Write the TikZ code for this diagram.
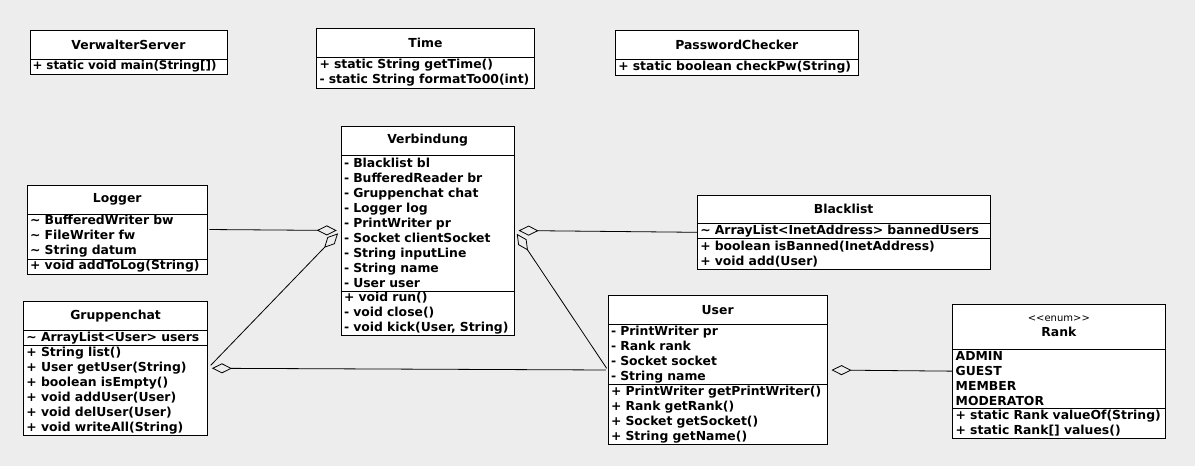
\documentclass[tikz,border=0pt]{standalone}
\usepackage{fontspec}
\setmainfont{DejaVu Sans}
\usetikzlibrary{arrows.meta,positioning,fit}

\tikzset{
    classname/.style={draw, fill=white, line width=1pt, inner sep=0pt, outer sep=0pt, minimum height=29pt, font=\fontsize{12.4}{15}\selectfont\bfseries},
    classpart/.style={draw, fill=white, line width=1pt, inner xsep=3pt, inner ysep=0pt, outer sep=0pt, align=left, font=\fontsize{12.4}{15}\selectfont\bfseries},
    agg/.style={-{Diamond[open,length=20pt,width=10pt]}, line width=0.8pt, shorten >=4pt, shorten <=2pt}
}

\begin{document}
\begin{tikzpicture}[x=1pt,y=-1pt]
            % class diagram
            \fill[black!7] (0,0) rectangle (1195,466);
            \useasboundingbox (0,0) rectangle (1195,466);

            % top row
            \node[classname, minimum width=197pt, anchor=north west] (verwalter) at (30,30) {VerwalterServer};
            \node[classpart, text width=192pt, inner xsep=2.5pt, minimum height=15pt, font=\fontsize{11.9}{15}\selectfont\bfseries, below=0pt of verwalter] (verwalterop) {+ static void main(String[])};

            \node[classname, minimum width=218pt, anchor=north west] (time) at (316.5,28.7) {Time};
            \node[classpart, text width=212pt, minimum height=30.4pt, below=0pt of time] (timeop) {+ static String getTime()\\- static String formatTo00(int)};

            \node[classname, minimum width=243pt, anchor=north west] (pwcheck) at (615.3,30.3) {PasswordChecker};
            \node[classpart, text width=237pt, minimum height=15.7pt, below=0pt of pwcheck] (pwcheckop) {+ static boolean checkPw(String)};

            % middle
            \node[classname, minimum width=173.4pt, anchor=north west] (verb) at (341,126) {Verbindung};
            \node[classpart, text width=167.4pt, minimum height=136.7pt, below=0pt of verb] (verbattr) {- Blacklist bl\\- BufferedReader br\\- Gruppenchat chat\\- Logger log\\- PrintWriter pr\\- Socket clientSocket\\- String inputLine\\- String name\\- User user};
            \node[classpart, text width=167.4pt, minimum height=43.3pt, below=0pt of verbattr] (verbop) {+ void run()\\- void close()\\- void kick(User, String)};
            \node[fit=(verb)(verbop), inner sep=0pt] (VERB) {};

            \node[classname, minimum width=180pt, anchor=north west] (logger) at (27.2,185) {Logger};
            \node[classpart, text width=174pt, minimum height=45pt, below=0pt of logger] (loggerattr) {\textasciitilde{} BufferedWriter bw\\\textasciitilde{} FileWriter fw\\\textasciitilde{} String datum};
            \node[classpart, text width=174pt, minimum height=15pt, below=0pt of loggerattr] (loggerop) {+ void addToLog(String)};
            \node[fit=(logger)(loggerop), inner sep=0pt] (LOGGER) {};

            \node[classname, minimum width=292.7pt, minimum height=28pt, anchor=north west] (black) at (697.3,195.3) {Blacklist};
            \node[classpart, text width=286.7pt, minimum height=14.7pt, below=0pt of black] (blackattr) {\textasciitilde{} ArrayList<InetAddress> bannedUsers};
            \node[classpart, text width=286.7pt, minimum height=31.3pt, below=0pt of blackattr] (blackop) {+ boolean isBanned(InetAddress)\\+ void add(User)};
            \node[fit=(black)(blackop), inner sep=0pt] (BLACK) {};

            % bottom row
            \node[classname, minimum width=184.2pt, anchor=north west] (gruppe) at (23.5,301.5) {Gruppenchat};
            \node[classpart, text width=178.2pt, minimum height=15.2pt, below=0pt of gruppe] (gruppeattr) {\textasciitilde{} ArrayList<User> users};
            \node[classpart, text width=178.2pt, minimum height=89.3pt, below=0pt of gruppeattr] (gruppeop) {+ String list()\\+ User getUser(String)\\+ boolean isEmpty()\\+ void addUser(User)\\+ void delUser(User)\\+ void writeAll(String)};
            \node[fit=(gruppe)(gruppeop), inner sep=0pt] (GRUPPE) {};

            \node[classname, minimum width=219.3pt, minimum height=28.6pt, anchor=north west] (user) at (608,295.7) {User};
            \node[classpart, text width=213.3pt, minimum height=60pt, below=0pt of user] (userattr) {- PrintWriter pr\\- Rank rank\\- Socket socket\\- String name};
            \node[classpart, text width=213.3pt, minimum height=60pt, below=0pt of userattr] (userop) {+ PrintWriter getPrintWriter()\\+ Rank getRank()\\+ Socket getSocket()\\+ String getName()};
            \node[fit=(user)(userop), inner sep=0pt] (USER) {};

            \node[classname, minimum width=212.3pt, minimum height=44.7pt, align=center, anchor=north west] (rank) at (952.7,304.3) {{\mdseries\fontsize{10}{14}\selectfont {<}{<}enum{>}{>}}\\Rank};
            \node[classpart, text width=206.3pt, minimum height=59.3pt, below=0pt of rank] (rankattr) {ADMIN\\GUEST\\MEMBER\\MODERATOR};
            \node[classpart, text width=206.3pt, minimum height=29.7pt, below=0pt of rankattr] (rankop) {+ static Rank valueOf(String)\\+ static Rank[] values()};
            \node[fit=(rank)(rankop), inner sep=0pt] (RANK) {};

            % aggregations
            \draw[agg] (LOGGER.east) -- (VERB.west);
            \draw[agg, shorten <=4pt] (GRUPPE.east) -- (VERB.west);
            \draw[agg, shorten <=0pt] (BLACK.west) -- (VERB.east);
            \draw[agg] (USER.west) -- (VERB.east);
            \draw[agg] (USER.west) -- (GRUPPE.east);
            \draw[agg, shorten <=0pt] (RANK.west) -- (USER.east);
        \end{tikzpicture}
\end{document}
